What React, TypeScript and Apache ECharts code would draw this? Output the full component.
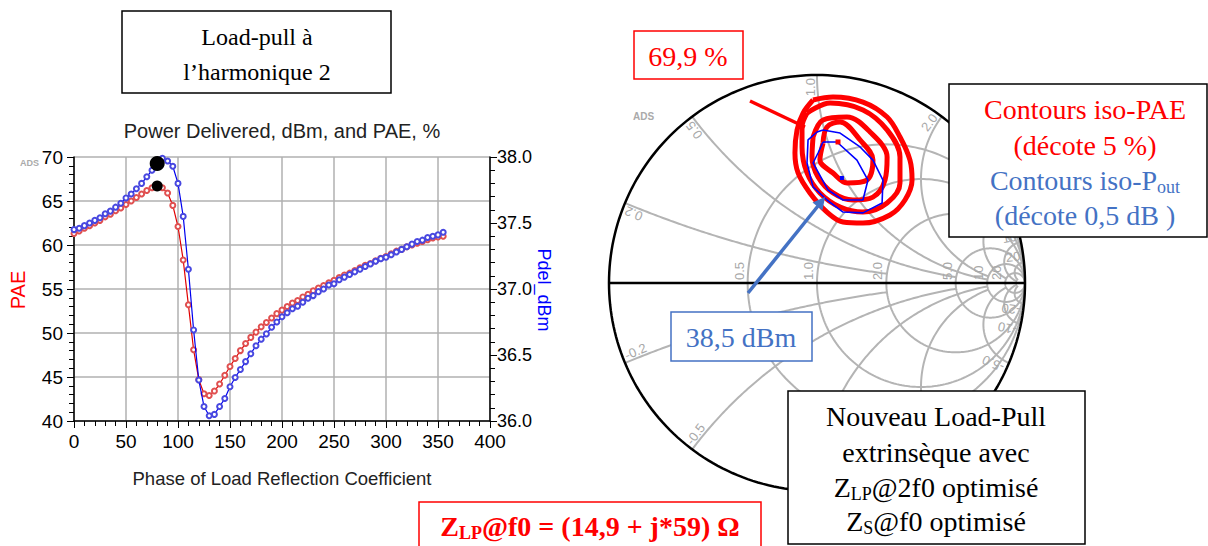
import React, { useEffect, useRef } from "react";
import * as echarts from "echarts";

// ---------- Left chart data ----------
const PHASE_DEG = [0, 5, 10, 15, 20, 25, 30, 35, 40, 45, 50, 55, 60, 65, 70, 75, 80, 85, 90, 95, 100, 105, 110, 115, 120, 125, 130, 135, 140, 145, 150, 155, 160, 165, 170, 175, 180, 185, 190, 195, 200, 205, 210, 215, 220, 225, 230, 235, 240, 245, 250, 255, 260, 265, 270, 275, 280, 285, 290, 295, 300, 305, 310, 315, 320, 325, 330, 335, 340, 345, 350, 355];
const PAE_PCT = [61.3, 61.6, 61.9, 62.2, 62.5, 62.8, 63.2, 63.5, 63.9, 64.2, 64.6, 65.0, 65.4, 65.8, 66.2, 66.5, 66.7, 66.5, 65.9, 64.5, 62.1, 58.3, 53.2, 48.1, 44.7, 43.1, 42.9, 43.4, 44.2, 45.2, 46.2, 47.1, 48.0, 48.8, 49.5, 50.1, 50.7, 51.2, 51.7, 52.2, 52.6, 53.0, 53.4, 53.7, 54.1, 54.4, 54.8, 55.1, 55.4, 55.7, 56.0, 56.3, 56.6, 56.8, 57.1, 57.4, 57.7, 57.9, 58.2, 58.5, 58.7, 59.0, 59.3, 59.5, 59.8, 60.0, 60.2, 60.4, 60.6, 60.8, 60.9, 61.0];
const PDEL_DBM = [37.45, 37.46, 37.48, 37.50, 37.52, 37.54, 37.57, 37.59, 37.62, 37.65, 37.69, 37.72, 37.76, 37.80, 37.85, 37.90, 37.95, 37.99, 37.97, 37.93, 37.80, 37.55, 37.15, 36.69, 36.31, 36.11, 36.04, 36.05, 36.11, 36.17, 36.26, 36.33, 36.39, 36.45, 36.51, 36.57, 36.62, 36.66, 36.71, 36.75, 36.79, 36.82, 36.85, 36.87, 36.90, 36.93, 36.95, 36.98, 37.00, 37.03, 37.04, 37.07, 37.09, 37.11, 37.13, 37.15, 37.17, 37.19, 37.21, 37.23, 37.24, 37.26, 37.28, 37.30, 37.32, 37.34, 37.36, 37.37, 37.39, 37.40, 37.41, 37.43];
const PAE_MAX_MARK = [[80, 66.7]];
const PDEL_MAX_MARK = [[80, 37.95]];

// ---------- Smith chart data (reflection coefficient plane) ----------
const SMITH_R_CIRCLES = [0.5, 1, 2, 5, 10, 20];
// [reactance, max resistance reached by the arc]
const SMITH_X_ARCS = [[0.2, 2], [-0.2, 2], [0.5, 5], [-0.5, 5], [1, 10], [-1, 10], [2, 10], [-2, 10], [5, 20], [-5, 20], [10, 50], [-10, 50], [20, 50], [-20, 50]];
const SMITH_R_LABELS = [0.5, 1, 2, 5, 10, 20];
const SMITH_X_LABELS = [0.2, 0.5, 1, 2, 5, 10, 20, -0.2, -0.5, -1, -2, -5, -10, -20];

const PAE_CONTOURS = [
  [[-0.019, 0.880], [0.077, 0.894], [0.221, 0.870], [0.337, 0.798], [0.399, 0.702], [0.447, 0.591], [0.457, 0.495], [0.423, 0.399], [0.351, 0.327], [0.221, 0.288], [0.125, 0.293], [0.048, 0.341], [-0.034, 0.433], [-0.091, 0.529], [-0.106, 0.625], [-0.096, 0.736], [-0.067, 0.817]],
  [[-0.048, 0.817], [0.063, 0.865], [0.221, 0.832], [0.337, 0.736], [0.399, 0.606], [0.399, 0.481], [0.337, 0.385], [0.221, 0.341], [0.111, 0.365], [0.014, 0.433], [-0.048, 0.529], [-0.072, 0.654], [-0.072, 0.750]],
  [[-0.019, 0.702], [0.029, 0.784], [0.144, 0.798], [0.255, 0.726], [0.337, 0.606], [0.327, 0.495], [0.269, 0.413], [0.173, 0.399], [0.077, 0.433], [0.005, 0.510], [-0.024, 0.606]],
  [[0.029, 0.673], [0.048, 0.750], [0.111, 0.774], [0.207, 0.688], [0.269, 0.591], [0.240, 0.495], [0.144, 0.481], [0.077, 0.529], [0.014, 0.591]],
];
const POUT_CONTOURS = [
  [[0.029, 0.736], [0.111, 0.721], [0.207, 0.654], [0.269, 0.591], [0.317, 0.495], [0.313, 0.385], [0.221, 0.337], [0.125, 0.341], [0.048, 0.399], [-0.019, 0.462], [-0.048, 0.577], [-0.043, 0.688], [0.0, 0.726]],
  [[0.029, 0.678], [0.096, 0.678], [0.192, 0.591], [0.245, 0.495], [0.221, 0.399], [0.125, 0.399], [0.053, 0.447], [-0.019, 0.577], [0.005, 0.625]],
];
const PAE_OPT = [[0.101, 0.678]];
const POUT_OPT = [[0.120, 0.505]];

const SERIF = '"Liberation Serif", "Times New Roman", serif';
const SANS = '"Liberation Sans", Arial, sans-serif';
const RED = "#ff0000";
const BLUE_TXT = "#4472C4";

function gamma(r: number, x: number): number[] {
  const d = (r + 1) * (r + 1) + x * x;
  return [(r * r - 1 + x * x) / d, (2 * x) / d];
}
function fmtSmith(v: number): string {
  const a = Math.abs(v);
  const s = a >= 10 ? String(a) : a.toFixed(1);
  return v < 0 ? "-" + s : s;
}
function closeLoop(pts: number[][]): number[][] {
  return pts.concat([pts[0]]);
}

export default function App() {
  const ref = useRef<HTMLDivElement>(null);
  useEffect(() => {
    if (!ref.current) return;
    const chart = echarts.init(ref.current, null, { renderer: "svg" });

    const gridData: any[] = [];
    SMITH_R_CIRCLES.forEach((r) => gridData.push([0, r, 0]));
    SMITH_X_ARCS.forEach((a) => gridData.push([1, a[0], a[1]]));
    gridData.push([0, 0, 0]); // outer circle
    gridData.push([1, 0, 1e9]); // real axis

    const labelData: any[] = [];
    SMITH_R_LABELS.forEach((r) => labelData.push([0, r]));
    SMITH_X_LABELS.forEach((x) => labelData.push([1, x]));

    const axisCommon = {
      axisLine: { show: true, lineStyle: { color: "#000", width: 1.5 } },
      axisTick: { show: true, inside: false, length: 7, lineStyle: { color: "#000", width: 1 } },
      minorTick: { show: true, splitNumber: 5, length: 5, lineStyle: { color: "#000", width: 1 } },
      axisLabel: { color: "#000", fontSize: 19, fontFamily: SANS },
    };

    const contourSeries: any[] = [];
    PAE_CONTOURS.forEach((c, i) =>
      contourSeries.push({
        type: "line",
        name: "pae" + i,
        xAxisIndex: 1,
        yAxisIndex: 2,
        data: closeLoop(c),
        showSymbol: false,
        smooth: 0.35,
        lineStyle: { color: RED, width: 5 },
        z: 4,
      })
    );
    POUT_CONTOURS.forEach((c, i) =>
      contourSeries.push({
        type: "line",
        name: "pout" + i,
        xAxisIndex: 1,
        yAxisIndex: 2,
        data: closeLoop(c),
        showSymbol: false,
        lineStyle: { color: "#0000ff", width: 1.6 },
        z: 5,
      })
    );

    const Z = 100;
    const arrowTip = [825, 197];
    const option: any = {
      animation: false,
      backgroundColor: "#fff",
      grid: [
        { left: 74, top: 157, width: 416, height: 264 },
        { left: 609, top: 75, width: 416, height: 416 },
      ],
      xAxis: [
        {
          gridIndex: 0,
          type: "value",
          min: 0,
          max: 400,
          interval: 50,
          ...axisCommon,
          axisLabel: { ...axisCommon.axisLabel, margin: 11 },
          splitLine: { show: true, lineStyle: { color: "#b0b0b0", width: 1.5 } },
        },
        { gridIndex: 1, type: "value", min: -1, max: 1, show: false },
      ],
      yAxis: [
        {
          gridIndex: 0,
          type: "value",
          min: 40,
          max: 70,
          interval: 5,
          ...axisCommon,
          axisLabel: { ...axisCommon.axisLabel, margin: 11 },
          splitLine: { show: true, lineStyle: { color: "#b0b0b0", width: 1.5 } },
        },
        {
          gridIndex: 0,
          type: "value",
          position: "right",
          min: 36,
          max: 38,
          interval: 0.5,
          ...axisCommon,
          axisLabel: { ...axisCommon.axisLabel, fontSize: 18, margin: 7, formatter: (v: number) => v.toFixed(1) },
          splitLine: { show: false },
        },
        { gridIndex: 1, type: "value", min: -1, max: 1, show: false },
      ],
      series: [
        {
          type: "line",
          name: "PAE",
          xAxisIndex: 0,
          yAxisIndex: 0,
          data: PHASE_DEG.map((p, i) => [p, PAE_PCT[i]]),
          symbol: "emptyCircle",
          symbolSize: 5,
          lineStyle: { color: "#e00000", width: 1.2 },
          itemStyle: { color: "#e05050", borderWidth: 1 },
          z: 3,
        },
        {
          type: "line",
          name: "Pdel",
          xAxisIndex: 0,
          yAxisIndex: 1,
          data: PHASE_DEG.map((p, i) => [p, PDEL_DBM[i]]),
          symbol: "emptyCircle",
          symbolSize: 5,
          lineStyle: { color: "#0000ee", width: 1.2 },
          itemStyle: { color: "#4848e0", borderWidth: 1 },
          z: 4,
        },
        {
          type: "scatter",
          xAxisIndex: 0,
          yAxisIndex: 0,
          data: PAE_MAX_MARK,
          symbolSize: 11,
          itemStyle: { color: "#000", opacity: 1 },
          z: 6,
        },
        {
          type: "scatter",
          xAxisIndex: 0,
          yAxisIndex: 1,
          data: PDEL_MAX_MARK,
          symbolSize: 15,
          itemStyle: { color: "#000", opacity: 1 },
          z: 6,
        },
        {
          type: "custom",
          xAxisIndex: 1,
          yAxisIndex: 2,
          data: gridData,
          z: 1,
          silent: true,
          renderItem: (params: any, api: any) => {
            const kind = api.value(0);
            const v = api.value(1);
            const lim = api.value(2);
            const pts: number[][] = [];
            if (kind === 0) {
              const cx = v / (v + 1);
              const rr = 1 / (v + 1);
              for (let i = 0; i <= 240; i++) {
                const a = (i / 240) * 2 * Math.PI;
                pts.push(api.coord([cx + rr * Math.cos(a), rr * Math.sin(a)]));
              }
            } else {
              const N = 160;
              const phiMax = Math.atan(lim);
              for (let i = 0; i <= N; i++) {
                const r = Math.tan((phiMax * i) / N);
                pts.push(api.coord(gamma(r, v)));
              }
            }
            const frame = v === 0;
            return {
              type: "polyline",
              shape: { points: pts },
              style: { stroke: frame ? "#000" : "#b4b4b4", lineWidth: frame ? 2.5 : 2, fill: "none" },
            };
          },
        },
        {
          type: "custom",
          xAxisIndex: 1,
          yAxisIndex: 2,
          data: labelData,
          z: 2,
          silent: true,
          renderItem: (params: any, api: any) => {
            const kind = api.value(0);
            const v = api.value(1);
            const font = "13px " + SANS;
            if (kind === 0) {
              const p = api.coord([(v - 1) / (v + 1), 0]);
              return {
                type: "text",
                x: p[0] - 2,
                y: p[1] - 3,
                rotation: Math.PI / 2,
                style: { text: fmtSmith(v), align: "left", verticalAlign: "bottom", fill: "#a8a8a8", font },
              };
            }
            const g = gamma(0, v);
            const th = Math.atan2(g[1], g[0]);
            const p = api.coord([g[0] * 0.985, g[1] * 0.985]);
            const upper = v > 0;
            return {
              type: "text",
              x: p[0],
              y: p[1],
              rotation: upper ? th : th + Math.PI,
              style: {
                text: fmtSmith(v),
                align: upper ? "right" : "left",
                verticalAlign: "bottom",
                fill: "#a8a8a8",
                font,
              },
            };
          },
        },
        ...contourSeries,
        {
          type: "scatter",
          xAxisIndex: 1,
          yAxisIndex: 2,
          data: PAE_OPT,
          symbol: "rect",
          symbolSize: 5,
          itemStyle: { color: RED, opacity: 1 },
          z: 6,
        },
        {
          type: "scatter",
          xAxisIndex: 1,
          yAxisIndex: 2,
          data: POUT_OPT,
          symbol: "rect",
          symbolSize: 4,
          itemStyle: { color: "#0000ff", opacity: 1 },
          z: 6,
        },
      ],
      graphic: {
        elements: [
          // Left chart texts
          { type: "text", z: Z, x: 282, y: 131, style: { text: "Power Delivered, dBm, and PAE, %", font: "20px " + SANS, fill: "#222", align: "center", verticalAlign: "middle" } },
          { type: "text", z: Z, x: 20, y: 163, style: { text: "ADS", font: "bold 9px " + SANS, fill: "#aaa", align: "left", verticalAlign: "middle" } },
          { type: "text", z: Z, x: 18, y: 290, rotation: Math.PI / 2, style: { text: "PAE", font: "20px " + SANS, fill: RED, align: "center", verticalAlign: "middle" } },
          { type: "text", z: Z, x: 544, y: 290, rotation: -Math.PI / 2, style: { text: "Pdel_dBm", font: "18px " + SANS, fill: "#0000ff", align: "center", verticalAlign: "middle" } },
          { type: "text", z: Z, x: 282, y: 478, style: { text: "Phase of Load Reflection Coefficient", font: "18.5px " + SANS, fill: "#222", align: "center", verticalAlign: "middle" } },
          // Load-pull box
          { type: "rect", z: Z, shape: { x: 122, y: 11, width: 269, height: 82 }, style: { fill: "#fff", stroke: "#000", lineWidth: 1.5 } },
          { type: "text", z: Z + 1, x: 257, y: 37, style: { text: "Load-pull à", font: "24px " + SERIF, fill: "#000", align: "center", verticalAlign: "middle" } },
          { type: "text", z: Z + 1, x: 257, y: 72, style: { text: "l’harmonique 2", font: "24px " + SERIF, fill: "#000", align: "center", verticalAlign: "middle" } },
          // 69,9 % box + pointer
          { type: "rect", z: Z, shape: { x: 634, y: 31, width: 109, height: 48 }, style: { fill: "#fff", stroke: RED, lineWidth: 1.5 } },
          { type: "text", z: Z + 1, x: 688, y: 56, style: { text: "69,9 %", font: "28px " + SERIF, fill: RED, align: "center", verticalAlign: "middle" } },
          { type: "line", z: Z, shape: { x1: 750, y1: 101, x2: 805, y2: 127 }, style: { stroke: RED, lineWidth: 3.5 } },
          { type: "text", z: Z, x: 633, y: 116, style: { text: "ADS", font: "bold 10px " + SANS, fill: "#aaa", align: "left", verticalAlign: "middle" } },
          // Contours legend box
          { type: "rect", z: Z, shape: { x: 949, y: 84, width: 258, height: 153 }, style: { fill: "#fff", stroke: "#000", lineWidth: 1.5 } },
          { type: "text", z: Z + 1, x: 1085, y: 109, style: { text: "Contours iso-PAE", font: "28px " + SERIF, fill: RED, align: "center", verticalAlign: "middle" } },
          { type: "text", z: Z + 1, x: 1085, y: 145, style: { text: "(décote 5 %)", font: "28px " + SERIF, fill: RED, align: "center", verticalAlign: "middle" } },
          {
            type: "text", z: Z + 1, x: 1085, y: 180,
            style: {
              text: "{m|Contours iso-P}{s|out}",
              align: "center", verticalAlign: "middle",
              rich: {
                m: { font: "28px " + SERIF, fill: BLUE_TXT, lineHeight: 32 },
                s: { font: "18px " + SERIF, fill: BLUE_TXT, lineHeight: 16, verticalAlign: "bottom" },
              },
            },
          },
          { type: "text", z: Z + 1, x: 1085, y: 215, style: { text: "(décote 0,5 dB )", font: "28px " + SERIF, fill: BLUE_TXT, align: "center", verticalAlign: "middle" } },
          // Blue arrow
          { type: "line", z: Z, shape: { x1: 748, y1: 293, x2: 818, y2: 206 }, style: { stroke: BLUE_TXT, lineWidth: 3.5 } },
          { type: "polygon", z: Z, shape: { points: [arrowTip, [822.5, 210.5], [812.5, 202.5]] }, style: { fill: BLUE_TXT } },
          // 38,5 dBm box
          { type: "rect", z: Z, shape: { x: 671, y: 312, width: 141, height: 49 }, style: { fill: "#fff", stroke: BLUE_TXT, lineWidth: 1.5 } },
          { type: "text", z: Z + 1, x: 741, y: 337, style: { text: "38,5 dBm", font: "28px " + SERIF, fill: BLUE_TXT, align: "center", verticalAlign: "middle" } },
          // Nouveau Load-Pull box
          { type: "rect", z: Z, shape: { x: 788, y: 391, width: 297, height: 153 }, style: { fill: "#fff", stroke: "#000", lineWidth: 1.5 } },
          { type: "text", z: Z + 1, x: 936, y: 416, style: { text: "Nouveau Load-Pull", font: "28px " + SERIF, fill: "#000", align: "center", verticalAlign: "middle" } },
          { type: "text", z: Z + 1, x: 936, y: 452, style: { text: "extrinsèque avec", font: "28px " + SERIF, fill: "#000", align: "center", verticalAlign: "middle" } },
          {
            type: "text", z: Z + 1, x: 936, y: 487,
            style: {
              text: "{m|Z}{s|LP}{m|@2f0 optimisé}",
              align: "center", verticalAlign: "middle",
              rich: {
                m: { font: "28px " + SERIF, fill: "#000", lineHeight: 32 },
                s: { font: "18px " + SERIF, fill: "#000", lineHeight: 16, verticalAlign: "bottom" },
              },
            },
          },
          {
            type: "text", z: Z + 1, x: 936, y: 521,
            style: {
              text: "{m|Z}{s|S}{m|@f0 optimisé}",
              align: "center", verticalAlign: "middle",
              rich: {
                m: { font: "28px " + SERIF, fill: "#000", lineHeight: 32 },
                s: { font: "18px " + SERIF, fill: "#000", lineHeight: 16, verticalAlign: "bottom" },
              },
            },
          },
          // Z_LP@f0 box
          { type: "rect", z: Z, shape: { x: 419, y: 502, width: 342, height: 52 }, style: { fill: "#fff", stroke: RED, lineWidth: 1.5 } },
          {
            type: "text", z: Z + 1, x: 590, y: 526,
            style: {
              text: "{m|Z}{s|LP}{m|@f0 = (14,9 + j*59) Ω}",
              align: "center", verticalAlign: "middle",
              rich: {
                m: { font: "bold 28px " + SERIF, fill: RED, lineHeight: 32 },
                s: { font: "bold 18px " + SERIF, fill: RED, lineHeight: 16, verticalAlign: "bottom" },
              },
            },
          },
        ],
      },
    };
    chart.setOption(option);
    return () => chart.dispose();
  }, []);
  return <div ref={ref} style={{ position: "fixed", left: 0, top: 0, width: 1208, height: 546, background: "#fff" }} />;
}
